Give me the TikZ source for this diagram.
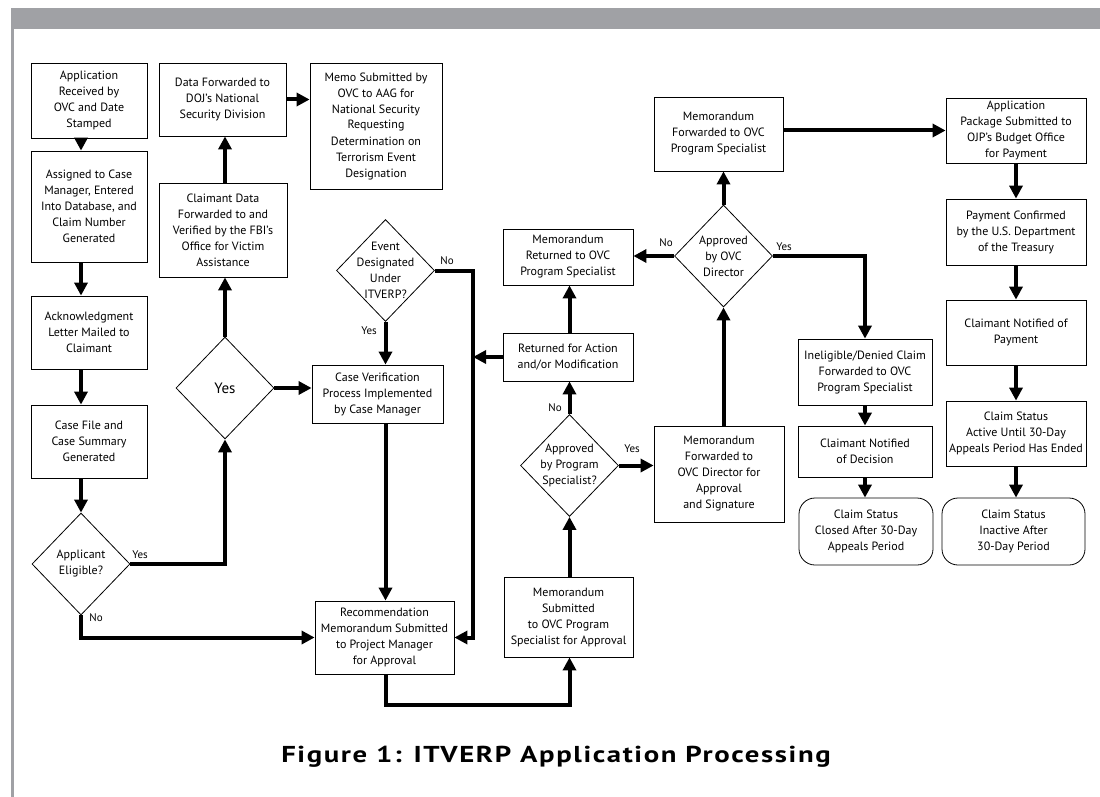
\documentclass[tikz,border=0pt]{standalone}
\usepackage{fontspec}
\setmainfont{PT Sans}
\newfontfamily\capfont[FakeStretch=1.25, LetterSpace=7]{PT Sans Bold}
\usetikzlibrary{arrows.meta,shapes.geometric}
\definecolor{framegray}{RGB}{160,161,165}
\tikzset{
  box/.style 2 args={draw, line width=0.8pt, align=center, inner sep=0pt,
    minimum width=#1, minimum height=#2, font=\fontsize{12}{16}\selectfont},
  endbox/.style 2 args={box={#1}{#2}, rounded corners=16pt},
  decision/.style={draw, diamond, line width=0.8pt, inner sep=0pt,
    minimum width=98pt, minimum height=102pt},
  dtext/.style={align=center, font=\fontsize{12}{16}\selectfont},
  flow/.style={line width=4pt, -{Triangle[length=13pt,width=13pt]}},
  tag/.style={inner sep=0pt, font=\fontsize{11}{13}\selectfont}
}
\begin{document}
\begin{tikzpicture}[x=1pt, y=-1pt]
\useasboundingbox (0,0) rectangle (1100,797);
% frame
\fill[framegray] (11,8) rectangle (1100,29);
\fill[framegray] (11,29) rectangle (14,797);

% intake column
\node[box={116pt}{75pt}] (a1) at (89,100.5) {Application\\Received by\\OVC and Date\\Stamped};
\node[box={116pt}{111pt}] (a2) at (89,206.5) {Assigned to Case\\Manager, Entered\\Into Database, and\\Claim Number\\Generated};
\node[box={116pt}{73pt}] (a3) at (89,332.5) {Acknowledgment\\Letter Mailed to\\Claimant};
\node[box={116pt}{73pt}] (a4) at (89,441.5) {Case File and\\Case Summary\\Generated};
\node[decision, label={[dtext]center:Applicant\\Eligible?}] (d1) at (81,564) {};

% verification
\node[box={127pt}{73pt}] (b1) at (222.5,99.5) {Data Forwarded to\\DOJ’s National\\Security Division};
\node[box={128pt}{94pt}] (b2) at (223,230) {Claimant Data\\Forwarded to and\\Verified by the FBI’s\\Office for Victim\\Assistance};
\node[decision, label={[font=\fontsize{15}{18}\selectfont]center:Yes}] (d2) at (225,388) {};
\node[box={132pt}{126pt}] (c1) at (376,126) {Memo Submitted by\\OVC to AAG for\\National Security\\Requesting\\Determination on\\Terrorism Event\\Designation};
\node[decision, label={[dtext]center:Event\\Designated\\Under\\ITVERP?}] (d3) at (385.5,270.5) {};
\node[box={131pt}{58pt}] (cv) at (377.5,394) {Case Verification\\Process Implemented\\by Case Manager};
\node[box={139pt}{73pt}] (rec) at (384.5,637.5) {Recommendation\\Memorandum Submitted\\to Project Manager\\for Approval};

% program specialist
\node[box={130pt}{56pt}] (mret) at (568,257) {Memorandum\\Returned to OVC\\Program Specialist};
\node[box={130pt}{48pt}] (ram) at (568,357) {Returned for Action\\and/or Modification};
\node[decision, label={[dtext]center:Approved\\by Program\\Specialist?}] (d4) at (569.5,465.5) {};
\node[box={129pt}{80pt}] (msub) at (568.5,617) {Memorandum\\Submitted\\to OVC Program\\Specialist for Approval};

% director
\node[box={129pt}{74pt}] (mfo) at (718.5,134) {Memorandum\\Forwarded to OVC\\Program Specialist};
\node[decision, label={[dtext]center:Approved\\by OVC\\Director}] (d5) at (723.5,256) {};
\node[box={130pt}{96pt}] (mfd) at (719,474) {Memorandum\\Forwarded to\\OVC Director for\\Approval\\and Signature};

% denied claims
\node[box={134pt}{66pt}] (inel) at (865,372) {Ineligible/Denied Claim\\Forwarded to OVC\\Program Specialist};
\node[box={134pt}{51pt}] (cnd) at (865,451.5) {Claimant Notified\\of Decision};
\node[endbox={134pt}{67pt}] (csc) at (866,531.5) {Claim Status\\Closed After 30-Day\\Appeals Period};

% payment
\node[box={140pt}{65pt}] (ap) at (1016,130.5) {Application\\Package Submitted to\\OJP’s Budget Office\\for Payment};
\node[box={140pt}{66pt}] (pc) at (1016,232) {Payment Confirmed\\by the U.S. Department\\of the Treasury};
\node[box={140pt}{65pt}] (cnp) at (1016,332.5) {Claimant Notified of\\Payment};
\node[box={140pt}{65pt}] (csa) at (1016,433.5) {Claim Status\\Active Until 30-Day\\Appeals Period Has Ended};
\node[endbox={143pt}{67pt}] (csi) at (1013.5,531.5) {Claim Status\\Inactive After\\30-Day Period};

% connectors
\draw[flow] (a1.south -| d1.north) -- (a2.north -| d1.north);
\draw[flow] (a2.south -| d1.north) -- (a3.north -| d1.north);
\draw[flow] (a3.south -| d1.north) -- (a4.north -| d1.north);
\draw[flow] (a4.south -| d1.north) -- (d1.north);
\draw[flow] (d1.east) -| (d2.south);
\draw[flow] (d1.south) |- (rec.west);
\draw[flow] (d2.north) -- (b2.south -| d2.north);
\draw[flow] (b2.north -| d2.north) -- (b1.south -| d2.north);
\draw[flow] (b1.east) -- (b1.east -| c1.west);
\draw[flow] (d2.east) -- (d2.east -| cv.west);
\draw[flow] (d3.south) -- (cv.north -| d3.south);
\draw[flow] (cv.south -| d3.south) -- (rec.north -| d3.south);
\coordinate (nobus) at (473,270.5);
\draw[flow] (d3.east) -- (nobus) |- (rec.east);
\draw[flow] (ram.west) -- (ram.west -| nobus);
\draw[flow] (rec.south -| d3.south) -- ++(0,31) -| (msub.south -| d4.south);
\draw[flow] (msub.north -| d4.south) -- (d4.south);
\draw[flow] (d4.north) -- (ram.south -| d4.north);
\draw[flow] (ram.north -| d4.north) -- (mret.south -| d4.north);
\draw[flow] (d4.east) -- (d4.east -| mfd.west);
\draw[flow] (mfd.north -| d5.south) -- (d5.south);
\draw[flow] (d5.north) -- (mfo.south -| d5.north);
\draw[flow] (d5.west) -- (d5.west -| mret.east);
\draw[flow] (d5.east) -| (inel.north);
\draw[flow] (inel.south) -- (cnd.north);
\draw[flow] (cnd.south) -- (csc.north -| cnd.south);
\draw[flow] (mfo.east |- ap.west) -- (ap.west);
\draw[flow] (ap.south) -- (pc.north);
\draw[flow] (pc.south) -- (cnp.north);
\draw[flow] (cnp.south) -- (csa.north);
\draw[flow] (csa.south) -- (csi.north -| csa.south);

% yes / no tags
\node[tag] (y1) at (140,555) {Yes};
\node[tag] (n1) at (96,618) {No};
\node[tag] (n3) at (447,261) {No};
\node[tag] (y3) at (369,331) {Yes};
\node[tag] (n4) at (555,408) {No};
\node[tag] (y4) at (632,449) {Yes};
\node[tag] (n5) at (666,243) {No};
\node[tag] (y5) at (784,247) {Yes};

\node[anchor=base, font=\capfont\fontsize{23}{26}\selectfont] (title) at (556,762) {Figure 1: ITVERP Application Processing};
\end{tikzpicture}
\end{document}
